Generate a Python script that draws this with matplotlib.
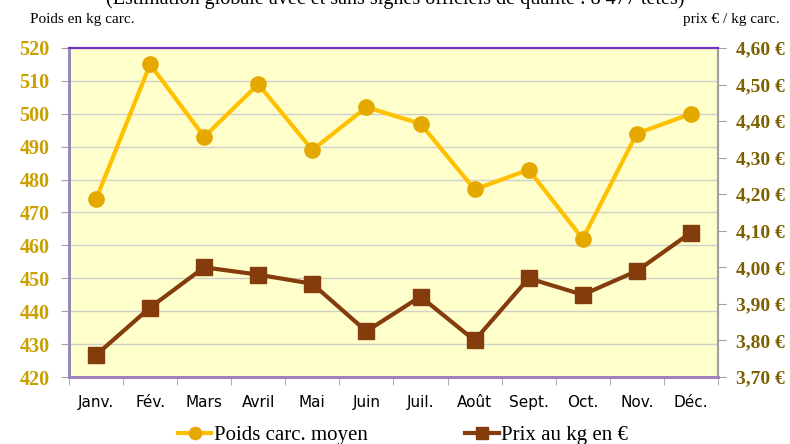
import matplotlib
matplotlib.use("Agg")
import matplotlib.pyplot as plt
from matplotlib.ticker import FuncFormatter, MultipleLocator

mois = ["Janv.", "Fév.", "Mars", "Avril", "Mai", "Juin", "Juil.", "Août",
        "Sept.", "Oct.", "Nov.", "Déc."]
poids = [474, 515, 493, 509, 489, 502, 497, 477, 483, 462, 494, 500]
prix = [3.76, 3.89, 4.00, 3.98, 3.955, 3.825, 3.92, 3.80, 3.97, 3.925, 3.99, 4.095]

serif = "Liberation Serif"

fig = plt.figure(figsize=(7.9, 4.44), dpi=100)
ax = fig.add_axes([0.0873, 0.1509, 0.8215, 0.741])
ax.set_facecolor("#FFFFCC")
x = list(range(len(mois)))

ax.plot(x, poids, color="#FFC000", lw=3, marker="o", ms=11,
        mfc="#E5A800", mec="#E5A800", zorder=3, label="Poids carc. moyen")
ax.set_xlim(-0.5, 11.5)
ax.set_ylim(420, 520)
ax.yaxis.set_major_locator(MultipleLocator(10))
ax.grid(axis="y", color="#D0D0C8", lw=1)
ax.set_axisbelow(True)

ax.set_xticks(x)
ax.set_xticklabels(mois, family=["Liberation Sans Narrow", "DejaVu Sans Condensed"],
                   fontsize=11)
ax.set_xticks([i - 0.5 for i in range(13)], minor=True)
ax.tick_params(axis="x", which="major", length=0, pad=13)
ax.tick_params(axis="x", which="minor", length=6, color="#A0A0A0")
ax.tick_params(axis="y", length=6, color="#A0A0A0", pad=8)
for t in ax.get_yticklabels():
    t.set_family(serif)
    t.set_fontweight("bold")
    t.set_fontsize(14.5)
    t.set_color("#C9A000")

ax2 = ax.twinx()
ax2.plot(x, prix, color="#843C0C", lw=3, marker="s", ms=11,
         mfc="#843C0C", mec="#843C0C", zorder=3, label="Prix au kg en €")
ax2.set_ylim(3.70, 4.60)
ax2.yaxis.set_major_locator(MultipleLocator(0.1))
ax2.yaxis.set_major_formatter(FuncFormatter(lambda v, p: f"{v:.2f} €".replace(".", ",")))
ax2.tick_params(axis="y", length=6, color="#A0A0A0", pad=7)
for t in ax2.get_yticklabels():
    t.set_family(serif)
    t.set_fontweight("bold")
    t.set_fontsize(14)
    t.set_color("#7F6000")

for a in (ax, ax2):
    a.spines["top"].set_color("#7030C0")
    a.spines["top"].set_linewidth(1.5)
    a.spines["bottom"].set_color("#A080C0")
    a.spines["bottom"].set_linewidth(2)
    a.spines["left"].set_color("#9888B8")
    a.spines["left"].set_linewidth(2)
    a.spines["right"].set_color("#A0A0A0")
    a.spines["right"].set_linewidth(1.5)

fig.text(0.5, 1.003, "(Estimation globale avec et sans signes officiels de qualité : 8 477 têtes)",
         ha="center", va="center", family=serif, fontsize=14.5)
fig.text(0.038, 0.955, "Poids en kg carc.", family=serif, fontsize=11, va="center")
fig.text(0.987, 0.955, "prix € / kg carc.", family=serif, fontsize=11, va="center", ha="right")

h1, l1 = ax.get_legend_handles_labels()
h2, l2 = ax2.get_legend_handles_labels()
fig.legend(h1 + h2, l1 + l2, loc="center", bbox_to_anchor=(0.51, 0.02), ncol=2,
           frameon=False, prop={"family": serif, "size": 15}, columnspacing=4.7,
           handlelength=1.6, handletextpad=0.1, markerscale=0.8)

fig.savefig("out.png", dpi=100)
